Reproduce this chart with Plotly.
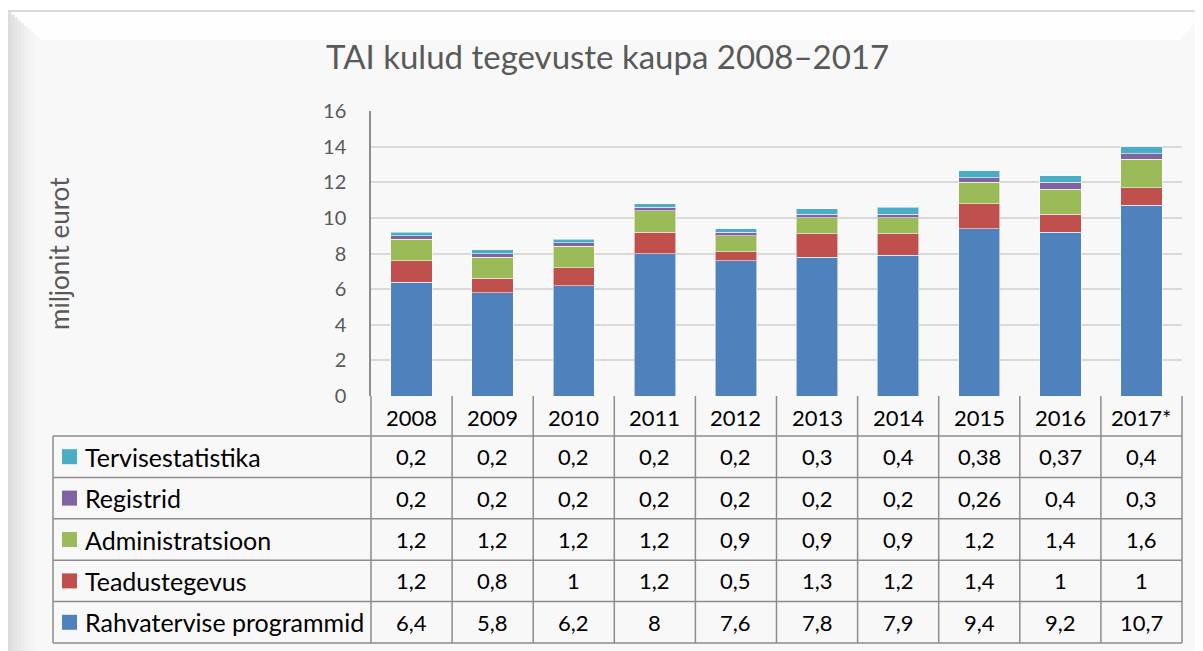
import plotly.graph_objects as go

# ---- data ----
years = ["2008", "2009", "2010", "2011", "2012", "2013", "2014", "2015", "2016", "2017*"]
rahvatervise = [6.4, 5.8, 6.2, 8, 7.6, 7.8, 7.9, 9.4, 9.2, 10.7]
teadustegevus = [1.2, 0.8, 1, 1.2, 0.5, 1.3, 1.2, 1.4, 1, 1]
administratsioon = [1.2, 1.2, 1.2, 1.2, 0.9, 0.9, 0.9, 1.2, 1.4, 1.6]
registrid = [0.2, 0.2, 0.2, 0.2, 0.2, 0.2, 0.2, 0.26, 0.4, 0.3]
tervisestatistika = [0.2, 0.2, 0.2, 0.2, 0.2, 0.3, 0.4, 0.38, 0.37, 0.4]

series_names = ["Rahvatervise programmid", "Teadustegevus", "Administratsioon",
                "Registrid", "Tervisestatistika"]
series_values = [rahvatervise, teadustegevus, administratsioon, registrid, tervisestatistika]
series_colors = ["#4F81BD", "#C0504D", "#9BBB59", "#8064A2", "#4BACC6"]

title_text = "TAI kulud tegevuste kaupa 2008–2017"
y_title = "miljonit eurot"
y_ticks = [0, 2, 4, 6, 8, 10, 12, 14, 16]

# ---- geometry (screen pixels) ----
W, H = 1203, 651
OFF = 8                                # default body margin of the html page
FW, FH = W - OFF, H - OFF              # figure size
PL, PR, PT, PB = 371, 1182, 111, 396   # plot area in screen pixels
pw, ph = PR - PL, PB - PT


def fx(px):
    return (px - PL) / pw


def fy(py):
    return (PB - py) / ph


def fmt(v):
    return ("%g" % v).replace(".", ",")


FONT = "Lato, Calibri, Carlito, sans-serif"

fig = go.Figure()
for name, vals, col in zip(series_names, series_values, series_colors):
    fig.add_trace(go.Bar(
        x=years, y=vals, name=name,
        marker=dict(color=col, line=dict(color="rgba(255,255,255,0.55)", width=1)),
        hoverinfo="skip", showlegend=False,
    ))

shapes = []
annotations = []

# background frame
shapes.append(dict(type="rect", xref="paper", yref="paper", layer="below",
                   x0=fx(7), x1=fx(1215), y0=fy(11), y1=fy(665),
                   fillcolor="#F8F8F8", line=dict(color="#D9D9D9", width=2)))
# top bevel
shapes.append(dict(type="path", xref="paper", yref="paper", layer="below",
                   path="M %f,%f L %f,%f L %f,%f L %f,%f Z" % (
                       fx(8), fy(12), fx(1203), fy(12), fx(1180), fy(40), fx(40), fy(40)),
                   fillcolor="#FEFEFE", line=dict(width=0)))
# left bevel gradient
grad = ["#DCDCDC", "#E0E0E0", "#E4E4E4", "#E8E8E8", "#ECECEC", "#EFEFEF",
        "#F2F2F2", "#F4F4F4", "#F6F6F6", "#F7F7F7"]
for i, c in enumerate(grad):
    x0 = 8 + i * 3.2
    shapes.append(dict(type="rect", xref="paper", yref="paper", layer="below",
                       x0=fx(x0), x1=fx(x0 + 3.3), y0=fy(12 + i * 2.8), y1=fy(660),
                       fillcolor=c, line=dict(width=0)))

# ---- data table ----
GRID = "#8C8C8C"
n = len(years)
colw = pw / n
TL = 53
hdr_bot = 436
row_h = (643 - hdr_bot) / len(series_names)
row_edges = [hdr_bot + i * row_h for i in range(len(series_names) + 1)]

for yy in row_edges:
    shapes.append(dict(type="line", xref="paper", yref="paper",
                       x0=fx(TL), x1=fx(PR), y0=fy(yy), y1=fy(yy),
                       line=dict(color=GRID, width=1.5)))
shapes.append(dict(type="line", xref="paper", yref="paper",
                   x0=fx(TL), x1=fx(TL), y0=fy(hdr_bot), y1=fy(row_edges[-1]),
                   line=dict(color=GRID, width=1.5)))
for j in range(n + 1):
    xx = PL + j * colw
    shapes.append(dict(type="line", xref="paper", yref="paper",
                       x0=fx(xx), x1=fx(xx), y0=fy(PB), y1=fy(row_edges[-1]),
                       line=dict(color=GRID, width=1.5)))

NUMSIZE = 22
LABSIZE = 25
for j, yr in enumerate(years):
    annotations.append(dict(xref="paper", yref="paper", x=fx(PL + (j + 0.5) * colw),
                            y=fy((PB + hdr_bot) / 2 + 1), text=yr, showarrow=False,
                            xanchor="center", yanchor="middle",
                            font=dict(family=FONT, size=NUMSIZE, color="#000000")))

for r, idx in enumerate(reversed(range(len(series_names)))):
    yc = (row_edges[r] + row_edges[r + 1]) / 2
    shapes.append(dict(type="rect", xref="paper", yref="paper",
                       x0=fx(62), x1=fx(77), y0=fy(yc - 7.5), y1=fy(yc + 7.5),
                       fillcolor=series_colors[idx], line=dict(width=0)))
    annotations.append(dict(xref="paper", yref="paper", x=fx(83), y=fy(yc),
                            text=series_names[idx], showarrow=False,
                            xanchor="left", yanchor="middle",
                            font=dict(family=FONT, size=LABSIZE, color="#000000")))
    for j in range(n):
        annotations.append(dict(xref="paper", yref="paper",
                                x=fx(PL + (j + 0.5) * colw), y=fy(yc),
                                text=fmt(series_values[idx][j]), showarrow=False,
                                xanchor="center", yanchor="middle",
                                font=dict(family=FONT, size=NUMSIZE, color="#000000")))

annotations.append(dict(xref="paper", yref="paper", x=fx(607), y=fy(56),
                        text=title_text, showarrow=False, xanchor="center", yanchor="middle",
                        font=dict(family=FONT, size=33, color="#595959")))
annotations.append(dict(xref="paper", yref="paper", x=fx(59), y=fy(254),
                        text=y_title, showarrow=False, textangle=-90,
                        xanchor="center", yanchor="middle",
                        font=dict(family=FONT, size=26, color="#595959")))

fig.update_layout(
    width=FW, height=FH,
    margin=dict(l=PL - OFF, r=W - PR, t=PT - OFF, b=H - PB, pad=0),
    barmode="stack", bargap=0.49,
    paper_bgcolor="white", plot_bgcolor="rgba(0,0,0,0)",
    shapes=shapes, annotations=annotations,
    xaxis=dict(showticklabels=False, showgrid=False, zeroline=False,
               showline=False, ticks="", fixedrange=True),
    yaxis=dict(range=[0, 16], tickvals=y_ticks, showgrid=True,
               gridcolor="#D9D9D9", gridwidth=2, zeroline=False,
               showline=True, linecolor="#8C8C8C", linewidth=1.5,
               ticks="", ticklabelstandoff=19,
               tickfont=dict(family=FONT, size=20, color="#595959"),
               fixedrange=True),
    font=dict(family=FONT),
)

fig.write_html("out.html")
